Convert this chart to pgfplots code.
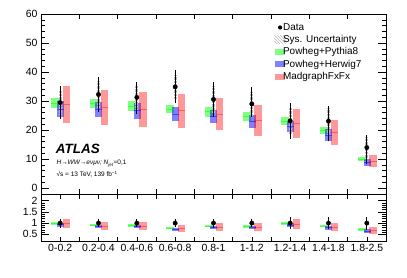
\documentclass[border=0pt]{standalone}
\usepackage{pgfplots}
\pgfplotsset{compat=1.18}
\usepackage{pgfplotstable}
\usepackage{fontspec}
\setmainfont{Liberation Sans}
\usetikzlibrary{patterns}

\definecolor{cg}{RGB}{0,255,0}
\definecolor{cb}{RGB}{0,0,255}
\definecolor{cr}{RGB}{255,0,0}

\pgfplotstableread{
x y ep em s
0.5 29.5 5.8 5.8 4.3
1.5 32.3 5.9 6.2 4.5
2.5 31.3 5.4 5.6 4.2
3.5 34.9 5.8 5.5 4.3
4.5 30.6 6.1 6.2 4.6
5.5 29.0 5.9 4.6 4.0
6.5 23.2 6.2 6.4 4.7
7.5 23.1 5.3 6.8 4.6
8.5 14.0 4.2 5.5 3.5
}\data

\pgfplotstableread{
x g ge b be r re
0.5 29.3 1.8 27.3 2.8 28.8 6.4
1.5 29.1 1.6 27.2 2.6 27.7 6.1
2.5 28.3 1.7 26.7 2.7 27.0 6.0
3.5 27.3 1.5 25.5 2.3 26.7 5.9
4.5 26.3 1.7 24.7 2.4 25.4 5.5
5.5 24.8 1.5 23.0 2.2 23.4 5.3
6.5 23.0 1.4 21.2 1.8 22.2 5.0
7.5 19.8 1.2 18.3 2.0 19.2 4.3
8.5 9.9 0.7 8.9 1.3 9.3 2.1
}\models

\pgfplotstableread{
x y ep em
0.5 1 0.197 0.197
1.5 1 0.187 0.187
2.5 1 0.176 0.176
3.5 1 0.162 0.162
4.5 1 0.200 0.200
5.5 1 0.180 0.180
6.5 1 0.270 0.270
7.5 1 0.260 0.260
8.5 1 0.280 0.300
}\rdata

\pgfplotstableread{
x g ge b be r re
0.5 0.99 0.060 0.93 0.095 0.98 0.22
1.5 0.90 0.050 0.84 0.080 0.86 0.19
2.5 0.90 0.055 0.85 0.086 0.86 0.19
3.5 0.78 0.045 0.73 0.066 0.765 0.17
4.5 0.86 0.056 0.81 0.078 0.83 0.18
5.5 0.855 0.052 0.79 0.076 0.81 0.18
6.5 0.99 0.060 0.91 0.078 0.96 0.215
7.5 0.86 0.052 0.79 0.087 0.83 0.19
8.5 0.71 0.050 0.64 0.093 0.66 0.15
}\rmodels

\pgfplotsset{
  mbox/.style n args={4}{forget plot, only marks, mark=-, mark size={#2},
    mark options={draw=#1, draw opacity=#4, line width=0.8bp},
    error bars/.cd, y dir=both, y explicit, error mark=none,
    error bar style={draw=#1, draw opacity=#4, line width=#3}},
  common/.style={
    scale only axis, width=345bp, xmin=0, xmax=9,
    tick align=inside, tick pos=both,
    xtick={1,...,8}, xticklabels={},
    major tick length=8bp, minor tick length=4bp,
    x tick style={/pgfplots/major tick length=4.5bp},
    axis line style={line width=0.8bp}, tick style={line width=0.6bp, black},
    tick label style={font=\fontsize{10.5}{12}\selectfont},
    /pgf/number format/assume math mode=true,
  },
}

\begin{document}
\begin{tikzpicture}
\path[use as bounding box] (-41bp,-84bp) rectangle (366bp,194bp);
\begin{axis}[common, name=top, anchor=south west, at={(0,0)},
  height=180bp, ymin=-2, ymax=60,
  ytick={0,10,...,60}, minor y tick num=4,
  legend style={at={(0.675,0.955)}, anchor=north west, draw=none, fill=none,
    inner sep=0pt, font=\fontsize{10}{11}\selectfont, row sep=1.6bp,
    nodes={inner xsep=1.5bp, inner ysep=1bp},
    /tikz/every odd column/.append style={column sep=-4.5bp}},
  legend cell align=left]
\addplot[mbox={cg}{4bp}{8bp}{0.5}] table[x expr=\thisrow{x}-0.13, y=g, y error=ge] \models;
\addplot[mbox={cb}{3.6bp}{7.2bp}{0.5}] table[x expr=\thisrow{x}+0.01, y=b, y error=be] \models;
\addplot[mbox={cr}{3.6bp}{7.2bp}{0.4}] table[x expr=\thisrow{x}+0.16, y=r, y error=re] \models;
\addplot[forget plot, draw=none, mark=none, error bars/.cd, y dir=both, y explicit, error mark=none,
  error bar style={draw=gray!55, line width=3bp, dash pattern=on 0.4bp off 1bp}]
  table[x=x, y=y, y error=s] \data;
\addplot[forget plot, only marks, mark=*, mark size=2.2bp, black,
  error bars/.cd, y dir=both, y explicit, error mark=none,
  error bar style={line width=1.2bp, black}]
  table[x=x, y=y, y error plus=ep, y error minus=em] \data;
\addlegendimage{legend image code/.code={\fill[black, draw=none] (5bp,0bp) circle (2.1bp);}}
\addlegendentry{Data}
\addlegendimage{legend image code/.code={\fill[draw=none, pattern=north west lines, pattern color=gray!70] (-1bp,-4bp) rectangle (11bp,4bp);}}
\addlegendentry{Sys. Uncertainty}
\addlegendimage{legend image code/.code={\fill[cg, draw=none, fill opacity=0.5] (0bp,-3bp) rectangle (10bp,3bp);}}
\addlegendentry{Powheg+Pythia8}
\addlegendimage{legend image code/.code={\fill[cb, draw=none, fill opacity=0.5] (0bp,-3bp) rectangle (10bp,3bp);}}
\addlegendentry{Powheg+Herwig7}
\addlegendimage{legend image code/.code={\fill[cr, draw=none, fill opacity=0.4] (0bp,-3bp) rectangle (10bp,3bp);}}
\addlegendentry{MadgraphFxFx}
\node[anchor=west, font=\fontsize{13.5}{16}\selectfont\bfseries\itshape] at (rel axis cs:0.033,0.25) {ATLAS};
\node[anchor=west, font=\fontsize{6.5}{8}\selectfont\itshape] at (rel axis cs:0.035,0.168) {H→WW→eνμν; N\textsubscript{jet}\textup{=0,1}};
\node[anchor=west, font=\fontsize{6.5}{8}\selectfont] at (rel axis cs:0.035,0.108) {√s = 13 TeV, 139 fb\textsuperscript{−1}};
\node[rotate=90, anchor=east, font=\fontsize{8}{9}\selectfont] at (rel axis cs:-0.094,0.967) {dσ/d(y\textsubscript{ll}) [fb]};
\end{axis}
\begin{axis}[common, anchor=north west, at={(top.south west)},
  height=47bp, ymin=0.2, ymax=2.3,
  ytick={0.5,1,1.5,2}, minor y tick num=4,
  extra x ticks={0.5,1.5,...,8.5},
  extra x tick labels={0-0.2,0.2-0.4,0.4-0.6,0.6-0.8,0.8-1,1-1.2,1.2-1.4,1.4-1.8,1.8-2.5},
  extra x tick style={major tick length=0pt}]
\addplot[mbox={cg}{4bp}{8bp}{0.5}] table[x expr=\thisrow{x}-0.13, y=g, y error=ge] \rmodels;
\addplot[mbox={cb}{3.6bp}{7.2bp}{0.5}] table[x expr=\thisrow{x}+0.01, y=b, y error=be] \rmodels;
\addplot[mbox={cr}{3.6bp}{7.2bp}{0.4}] table[x expr=\thisrow{x}+0.16, y=r, y error=re] \rmodels;
\addplot[forget plot, only marks, mark=*, mark size=2.2bp, black,
  error bars/.cd, y dir=both, y explicit, error mark=none,
  error bar style={line width=1.2bp, black}]
  table[x=x, y=y, y error plus=ep, y error minus=em] \rdata;
\node[rotate=90, font=\fontsize{10.5}{12}\selectfont] at (rel axis cs:-0.096,0.447) {Pred. / Obs.};
\node[font=\fontsize{10.5}{12}\selectfont] at (rel axis cs:0.554,-0.574) {y\textsubscript{ll}};
\end{axis}
\end{tikzpicture}
\end{document}
